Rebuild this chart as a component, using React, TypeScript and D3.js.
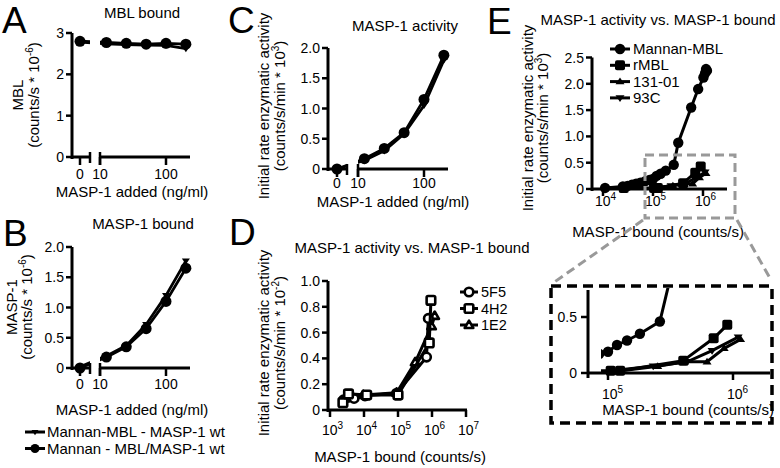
import React from "react";
import * as d3 from "d3";

const FONT = "'Liberation Sans', Arial, Helvetica, sans-serif";

// ---------- Panels A–C : x = MASP-1 added (ng/ml)
const maspAdded = [0, 12.5, 25, 50, 100, 200];
const aCircle = [2.8, 2.77, 2.75, 2.73, 2.75, 2.73]; // Mannan - MBL/MASP-1 wt
const aTri = [2.78, 2.74, 2.72, 2.71, 2.7, 2.62]; // Mannan-MBL - MASP-1 wt
const bCircle = [0, 0.18, 0.35, 0.65, 1.1, 1.65];
const bTri = [0.02, 0.2, 0.37, 0.72, 1.2, 1.77];
const cCircle = [0, 0.17, 0.34, 0.6, 1.15, 1.88];
const cTri = [0, 0.14, 0.3, 0.58, 1.05, 1.8];
const addedTicks = [10, 100];
const aYTicks = [0, 1, 2, 3];
const bYTicks = [0, 0.5, 1, 1.5, 2];
const cYTicks = [0, 0.5, 1, 1.5, 2];

// ---------- Panel D : activity vs bound
const d5F5X = [2.5e3, 5.1e3, 1.07e4, 9.1e4, 6.9e5, 7.8e5];
const d5F5Y = [0.078, 0.09, 0.11, 0.13, 0.41, 0.71];
const d4H2X = [2.4e3, 3.5e3, 1.2e4, 1.0e5, 8.3e5, 9.3e5];
const d4H2Y = [0.057, 0.125, 0.116, 0.116, 0.52, 0.85];
const d1E2X = [2.8e3, 3.9e3, 9.5e3, 9.1e4, 3.2e5, 9.7e5, 1.2e6];
const d1E2Y = [0.09, 0.116, 0.116, 0.134, 0.37, 0.65, 0.73];
const dXTicks = [3, 4, 5, 6, 7];
const dYTicks = [0, 0.2, 0.4, 0.6, 0.8, 1.0];

// ---------- Panel E
const eMannanX = [1.1e4, 2.5e4, 3.1e4, 3.8e4, 4.6e4, 5.6e4, 7e4, 8.5e4, 1e5, 1.18e5, 1.42e5, 1.8e5, 2.6e5, 3.2e5, 5.8e5, 8e5, 1.02e6, 1.1e6, 1.2e6, 1.15e6];
const eMannanY = [0.02, 0.05, 0.06, 0.08, 0.1, 0.12, 0.15, 0.17, 0.19, 0.25, 0.29, 0.35, 0.46, 0.88, 1.55, 1.9, 2.12, 2.2, 2.25, 2.28];
const eRmblX = [2.6e4, 1.05e5, 1.25e5, 4e5, 7e5, 9e5];
const eRmblY = [0.02, 0.02, 0.02, 0.11, 0.31, 0.43];
const e131X = [1.1e5, 2.5e5, 4.1e5, 6.2e5, 8.5e5, 1.15e6];
const e131Y = [0.01, 0.06, 0.1, 0.1, 0.22, 0.3];
const e93X = [1.05e5, 2.3e5, 4.3e5, 6.8e5, 1.1e6];
const e93Y = [0.02, 0.06, 0.1, 0.2, 0.32];
const eXTicks = [4, 5, 6];
const eYTicks = [0, 0.5, 1, 1.5, 2, 2.5];
const insetXTicks = [5, 6];
const insetYTicks = [0, 0.5];

const zip = (xs: number[], ys: number[]) => xs.map((x, i) => [x, ys[i]] as [number, number]);

const fmt1 = (v: number) => (v === 0 ? "0" : v.toFixed(1));
const fmt0 = (v: number) => String(v);

type Shape = "circle" | "triDown" | "triUp" | "square" | "openCircle" | "openSquare" | "openTri";

function Marker({ shape, x, y, r = 5.5 }: { shape: Shape; x: number; y: number; r?: number }) {
  switch (shape) {
    case "circle":
      return <circle cx={x} cy={y} r={r} fill="#000" />;
    case "openCircle":
      return <circle cx={x} cy={y} r={r} fill="#fff" stroke="#000" strokeWidth={2.6} />;
    case "square":
      return <rect x={x - r} y={y - r} width={2 * r} height={2 * r} rx={2} fill="#000" />;
    case "openSquare":
      return <rect x={x - r} y={y - r} width={2 * r} height={2 * r} rx={1.5} fill="#fff" stroke="#000" strokeWidth={2.6} />;
    case "triDown":
      return <path d={`M${x - r},${y - r * 0.6}L${x + r},${y - r * 0.6}L${x},${y + r * 0.9}Z`} fill="#000" />;
    case "triUp":
      return <path d={`M${x - r},${y + r * 0.6}L${x + r},${y + r * 0.6}L${x},${y - r * 0.9}Z`} fill="#000" />;
    case "openTri":
      return <path d={`M${x - r},${y + r * 0.7}L${x + r},${y + r * 0.7}L${x},${y - r}Z`} fill="#fff" stroke="#000" strokeWidth={2.6} strokeLinejoin="round" />;
  }
  return null;
}

function YLabel({ x1, x2, cy, l1, pre, sup, post = ")" }: { x1: number; x2: number; cy: number; l1: string; pre: string; sup: string; post?: string }) {
  return (
    <g fontSize={15}>
      <text transform={`translate(${x1},${cy}) rotate(-90)`} textAnchor="middle">{l1}</text>
      <text transform={`translate(${x2},${cy}) rotate(-90)`} textAnchor="middle">
        {pre}
        <tspan dy={-6} fontSize={10}>{sup}</tspan>
        <tspan dy={6}>{post}</tspan>
      </text>
    </g>
  );
}

function YAxis({ x, sy, ticks, f, top, bottom }: { x: number; sy: d3.ScaleLinear<number, number>; ticks: number[]; f: (v: number) => string; top: number; bottom: number }) {
  return (
    <g>
      <line x1={x} x2={x} y1={top} y2={bottom} stroke="#000" strokeWidth={3} />
      {ticks.map((t) => (
        <g key={t}>
          <line x1={x - 6} x2={x} y1={sy(t)} y2={sy(t)} stroke="#000" strokeWidth={2.5} />
          <text x={x - 8} y={sy(t) + 5} textAnchor="end" fontSize={14}>{f(t)}</text>
        </g>
      ))}
    </g>
  );
}

function PowTick({ x, y, exp }: { x: number; y: number; exp: number }) {
  return (
    <text x={x - 8} y={y} fontSize={14}>
      10<tspan dy={-6} fontSize={10}>{exp}</tspan>
    </text>
  );
}

function BrokenPanel(props: {
  id: string; ox: number; y0: number; yTop: number; yMax: number; ticks: number[]; f: (v: number) => string;
  circle: number[]; tri: number[]; title: string; titleX: number; titleY: number;
  xlabX: number; xlabY: number; tickLabY: number; logStart: number; zeroX: number; breakEnd: number;
}) {
  const { id, ox, y0, yTop, yMax, ticks, f, circle, tri, logStart, zeroX, breakEnd } = props;
  const sy = d3.scaleLinear().domain([0, yMax]).range([y0, yTop]);
  const slog = d3.scaleLog().domain([10, 100]).range([logStart, logStart + 66]);
  const axisEnd = logStart + 90;
  const sx = (v: number) => (v === 0 ? zeroX : slog(v));
  const line = d3.line<[number, number]>().x((d) => sx(d[0])).y((d) => sy(d[1]));
  const series: [number[], Shape][] = [[tri, "triDown"], [circle, "circle"]];
  return (
    <g>
      <defs>
        <clipPath id={id}>
          <rect x={ox - 12} y={0} width={breakEnd - ox + 12} height={468} />
          <rect x={logStart} y={0} width={200} height={468} />
        </clipPath>
      </defs>
      <text x={props.titleX} y={props.titleY} textAnchor="middle" fontSize={15}>{props.title}</text>
      <YAxis x={ox} sy={sy} ticks={ticks} f={f} top={yTop} bottom={y0 + 2} />
      <line x1={ox} x2={breakEnd} y1={y0} y2={y0} stroke="#000" strokeWidth={3} />
      <line x1={breakEnd} x2={breakEnd} y1={y0 - 5} y2={y0 + 6} stroke="#000" strokeWidth={2.5} />
      <line x1={logStart} x2={axisEnd} y1={y0} y2={y0} stroke="#000" strokeWidth={3} />
      <line x1={logStart} x2={logStart} y1={y0 - 5} y2={y0 + 8} stroke="#000" strokeWidth={2.5} />
      <line x1={zeroX} x2={zeroX} y1={y0} y2={y0 + 8} stroke="#000" strokeWidth={2.5} />
      {addedTicks.map((t) => (
        <line key={t} x1={slog(t)} x2={slog(t)} y1={y0} y2={y0 + 8} stroke="#000" strokeWidth={2.5} />
      ))}
      <text x={zeroX} y={props.tickLabY} textAnchor="middle" fontSize={14}>0</text>
      {addedTicks.map((t) => (
        <text key={t} x={slog(t)} y={props.tickLabY} textAnchor="middle" fontSize={14}>{t}</text>
      ))}
      <text x={props.xlabX} y={props.xlabY} textAnchor="middle" fontSize={15}>MASP-1 added (ng/ml)</text>
      {series.map(([vals, shape], i) => {
        const pts = zip(maspAdded, vals);
        return (
          <g key={i}>
            <path d={line(pts) || ""} fill="none" stroke="#000" strokeWidth={2.8} clipPath={`url(#${id})`} />
            {pts.map((p, j) => (
              <Marker key={j} shape={shape} x={sx(p[0])} y={sy(p[1])} r={shape === "circle" ? 5.5 : 4} />
            ))}
          </g>
        );
      })}
    </g>
  );
}

function PanelD() {
  const sx = d3.scaleLog().domain([1e3, 1e7]).range([330, 466]);
  const sy = d3.scaleLinear().domain([0, 1]).range([410, 281]);
  const line = d3.line<[number, number]>().x((d) => sx(d[0])).y((d) => sy(d[1]));
  const series: [number[], number[], Shape, string][] = [
    [d1E2X, d1E2Y, "openTri", "1E2"],
    [d5F5X, d5F5Y, "openCircle", "5F5"],
    [d4H2X, d4H2Y, "openSquare", "4H2"],
  ];
  const legendOrder = ["5F5", "4H2", "1E2"];
  return (
    <g>
      <text x={412} y={253} textAnchor="middle" fontSize={15}>MASP-1 activity vs. MASP-1 bound</text>
      <YLabel x1={269} x2={285} cy={343} l1="Initial rate enzymatic activity" pre="(counts/s/min * 10" sup="-2" />
      <YAxis x={328} sy={sy} ticks={dYTicks} f={(v) => (v === 0 ? "0" : v.toFixed(1))} top={281} bottom={412} />
      <line x1={328} x2={467} y1={410} y2={410} stroke="#000" strokeWidth={3} />
      {dXTicks.map((e) => (
        <g key={e}>
          <line x1={sx(10 ** e)} x2={sx(10 ** e)} y1={410} y2={417} stroke="#000" strokeWidth={2.5} />
          <PowTick x={sx(10 ** e)} y={435} exp={e} />
        </g>
      ))}
      <text x={400} y={462} textAnchor="middle" fontSize={15}>MASP-1 bound (counts/s)</text>
      {series.map(([xs, ys, shape], i) => {
        const pts = zip(xs, ys);
        return (
          <g key={i}>
            <path d={line(pts) || ""} fill="none" stroke="#000" strokeWidth={3} />
            {pts.map((p, j) => (
              <Marker key={j} shape={shape} x={sx(p[0])} y={sy(p[1])} r={4.3} />
            ))}
          </g>
        );
      })}
      {legendOrder.map((name, i) => {
        const s = series.find((q) => q[3] === name)!;
        const y = 292 + i * 16.5;
        return (
          <g key={name}>
            <line x1={460} x2={478} y1={y} y2={y} stroke="#000" strokeWidth={3} />
            <Marker shape={s[2]} x={469} y={y} r={4.3} />
            <text x={481} y={y + 5} fontSize={14.5}>{name}</text>
          </g>
        );
      })}
    </g>
  );
}

function PanelE() {
  const sx = d3.scaleLog().domain([1e4, 1e6]).range([603, 703]);
  const sy = d3.scaleLinear().domain([0, 2.5]).range([189, 57.5]);
  const ix = d3.scaleLog().domain([1e5, 1e6]).range([608, 733]);
  const iy = d3.scaleLinear().domain([0, 0.5]).range([373, 317]);
  const series: [number[], number[], Shape, string, number][] = [
    [eMannanX, eMannanY, "circle", "Mannan-MBL", 5.2],
    [eRmblX, eRmblY, "square", "rMBL", 5],
    [e131X, e131Y, "triUp", "131-01", 4.5],
    [e93X, e93Y, "triDown", "93C", 4.5],
  ];
  const mk = (x: d3.ScaleLogarithmic<number, number>, y: d3.ScaleLinear<number, number>) =>
    d3.line<[number, number]>().x((d) => x(d[0])).y((d) => y(d[1]));
  const lineMain = mk(sx, sy);
  const lineInset = mk(ix, iy);
  return (
    <g>
      <text x={658} y={25} textAnchor="middle" fontSize={15}>MASP-1 activity vs. MASP-1 bound</text>
      <YLabel x1={533} x2={548} cy={118} l1="Initial rate enzymatic activity" pre="(counts/s/min * 10" sup="3" />
      <YAxis x={592} sy={sy} ticks={eYTicks} f={(v) => (v === 0 ? "0" : v.toFixed(1))} top={57.5} bottom={191} />
      <line x1={592} x2={727} y1={189} y2={189} stroke="#000" strokeWidth={3} />
      {eXTicks.map((e) => (
        <g key={e}>
          <line x1={sx(10 ** e)} x2={sx(10 ** e)} y1={189} y2={196} stroke="#000" strokeWidth={2.5} />
          <PowTick x={sx(10 ** e)} y={206} exp={e} />
        </g>
      ))}
      <text x={658} y={237} textAnchor="middle" fontSize={15}>MASP-1 bound (counts/s)</text>
      {series.map(([xs, ys, shape, , r], i) => {
        const pts = zip(xs, ys);
        return (
          <g key={i}>
            <path d={lineMain(pts) || ""} fill="none" stroke="#000" strokeWidth={3} />
            {pts.map((p, j) => (
              <Marker key={j} shape={shape} x={sx(p[0])} y={sy(p[1])} r={r} />
            ))}
          </g>
        );
      })}
      {series.map(([, , shape, name, r], i) => {
        const y = 49 + i * 16.3;
        return (
          <g key={name}>
            <line x1={610} x2={630} y1={y} y2={y} stroke="#000" strokeWidth={3} />
            <Marker shape={shape} x={620} y={y} r={r} />
            <text x={633} y={y + 5} fontSize={15}>{name}</text>
          </g>
        );
      })}
      {/* zoom box + connectors */}
      <g stroke="#999" strokeWidth={3} fill="none" strokeDasharray="9 5">
        <rect x={645} y={155} width={90} height={63} />
        <line x1={643} y1={220} x2={553} y2={283} />
        <line x1={737} y1={220} x2={771} y2={280} />
      </g>
      {/* inset */}
      <rect x={551} y={286} width={221} height={137} fill="none" stroke="#000" strokeWidth={3.5} strokeDasharray="10 6" />
      <defs>
        <clipPath id="insetClip">
          <rect x={601} y={288} width={169} height={92} />
        </clipPath>
      </defs>
      <line x1={588} x2={588} y1={290} y2={378} stroke="#000" strokeWidth={3} />
      {insetYTicks.map((t) => (
        <g key={t}>
          <line x1={581} x2={588} y1={iy(t)} y2={iy(t)} stroke="#000" strokeWidth={2.5} />
          <text x={577} y={iy(t) + 5} textAnchor="end" fontSize={14}>{t === 0 ? "0" : t.toFixed(1)}</text>
        </g>
      ))}
      <line x1={588} x2={770} y1={373} y2={373} stroke="#000" strokeWidth={3} />
      {insetXTicks.map((e) => (
        <g key={e}>
          <line x1={ix(10 ** e)} x2={ix(10 ** e)} y1={373} y2={380} stroke="#000" strokeWidth={2.5} />
          <PowTick x={ix(10 ** e) + 2} y={399} exp={e} />
        </g>
      ))}
      <text x={688} y={415} textAnchor="middle" fontSize={15}>MASP-1 bound (counts/s)</text>
      <g clipPath="url(#insetClip)">
        {series.map(([xs, ys, shape, , r], i) => {
          const pts = zip(xs, ys);
          return (
            <g key={i}>
              <path d={lineInset(pts) || ""} fill="none" stroke="#000" strokeWidth={3} />
              {pts.map((p, j) => (
                <Marker key={j} shape={shape} x={ix(p[0])} y={iy(p[1])} r={r} />
              ))}
            </g>
          );
        })}
      </g>
    </g>
  );
}

export default function App() {
  return (
    <svg width={780} height={468} style={{ position: "absolute", left: 0, top: 0, background: "#fff" }} fontFamily={FONT} fill="#000">
      <rect width={780} height={468} fill="#fff" />
      {/* panel letters */}
      <g fontSize={37}>
        <text x={2} y={33}>A</text>
        <text x={3} y={246}>B</text>
        <text x={228} y={33}>C</text>
        <text x={229} y={245}>D</text>
        <text x={487} y={34}>E</text>
      </g>

      <BrokenPanel id="clipA" ox={72} y0={157} yTop={33} yMax={3} ticks={aYTicks} f={fmt0} circle={aCircle} tri={aTri}
        title="MBL bound" titleX={142} titleY={18} xlabX={132} xlabY={197} tickLabY={179}
        logStart={100} zeroX={80} breakEnd={90} />
      <YLabel x1={23} x2={39} cy={95} l1="MBL" pre="(counts/s * 10" sup="-6" />

      <BrokenPanel id="clipB" ox={72} y0={368} yTop={247} yMax={2} ticks={bYTicks} f={fmt1} circle={bCircle} tri={bTri}
        title="MASP-1 bound" titleX={143} titleY={229} xlabX={132} xlabY={415} tickLabY={389}
        logStart={100} zeroX={80} breakEnd={90} />
      <YLabel x1={17} x2={32} cy={307} l1="MASP-1" pre="(counts/s * 10" sup="-6" />

      <BrokenPanel id="clipC" ox={328} y0={169} yTop={48} yMax={2} ticks={cYTicks} f={fmt1} circle={cCircle} tri={cTri}
        title="MASP-1 activity" titleX={405} titleY={31} xlabX={393} xlabY={207} tickLabY={188}
        logStart={358} zeroX={337} breakEnd={347} />
      <YLabel x1={269} x2={285} cy={106} l1="Initial rate enzymatic activity" pre="(counts/s/min * 10" sup="3" />

      {/* legend for A–C */}
      <g>
        <line x1={25} x2={45} y1={432} y2={432} stroke="#000" strokeWidth={3} />
        <Marker shape="triDown" x={35} y={432} r={3.5} />
        <text x={47} y={437} fontSize={15}>Mannan-MBL - MASP-1 wt</text>
        <line x1={25} x2={45} y1={448.5} y2={448.5} stroke="#000" strokeWidth={3} />
        <Marker shape="circle" x={35} y={448.5} r={4.5} />
        <text x={47} y={453.5} fontSize={15}>Mannan - MBL/MASP-1 wt</text>
      </g>

      <PanelD />
      <PanelE />
    </svg>
  );
}
